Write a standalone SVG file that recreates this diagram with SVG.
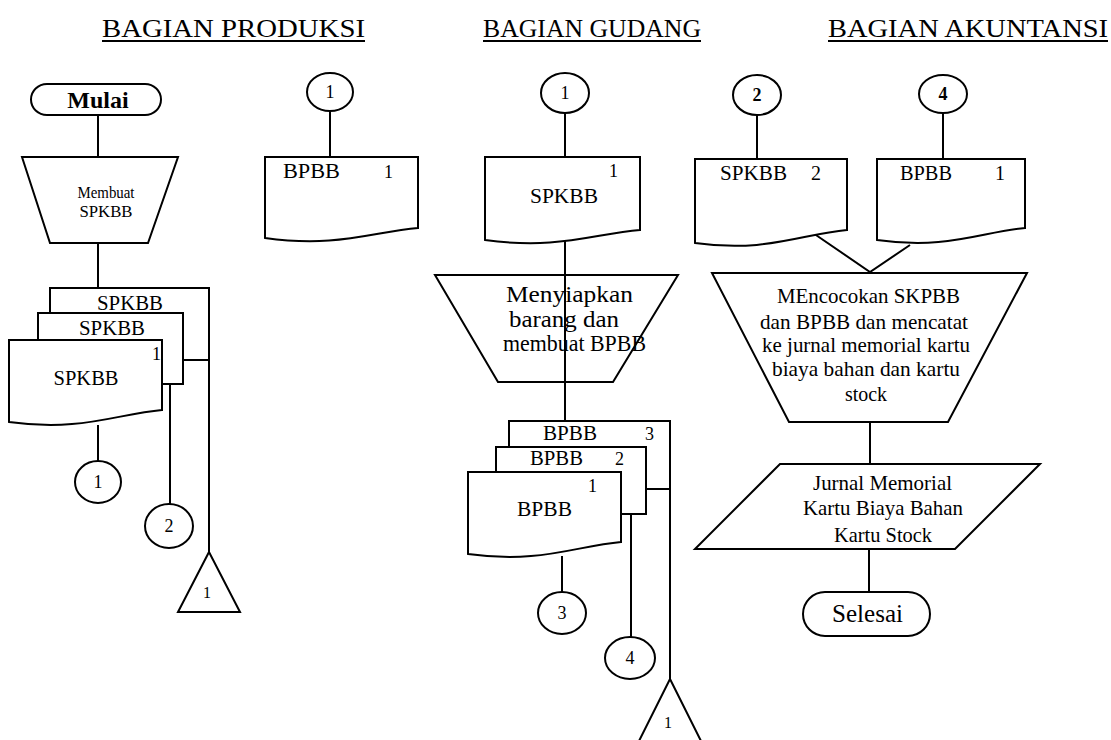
<svg xmlns="http://www.w3.org/2000/svg" width="1111" height="740" viewBox="0 0 1111 740">
<style>
.s{fill:#fff;stroke:#000;stroke-width:2;stroke-linejoin:miter}
.c{fill:none;stroke:#000;stroke-width:2}
.t{font-family:"Liberation Serif","Times New Roman",serif;fill:#000}
.h{font-size:26px}
.m{text-anchor:middle}
.d{font-size:18px}
</style>
<rect width="1111" height="740" fill="#fff"/>
<g id="headers">
<text class="t h" x="102" y="37" textLength="263" lengthAdjust="spacingAndGlyphs">BAGIAN PRODUKSI</text>
<line class="c" x1="102" y1="41" x2="365" y2="41"/>
<text class="t h" x="483" y="37" textLength="218" lengthAdjust="spacingAndGlyphs">BAGIAN GUDANG</text>
<line class="c" x1="483" y1="41" x2="701" y2="41"/>
<text class="t h" x="828" y="37" textLength="280" lengthAdjust="spacingAndGlyphs">BAGIAN AKUNTANSI</text>
<line class="c" x1="828" y1="41" x2="1108" y2="41"/>
</g>
<g id="connectors">
<line class="c" x1="98" y1="115" x2="98" y2="157"/>
<line class="c" x1="98" y1="243" x2="98" y2="288"/>
<line class="c" x1="98" y1="425" x2="98" y2="461"/>
<polyline class="c" points="162,384 183,384"/>
<line class="c" x1="170" y1="384" x2="170" y2="505"/>
<line class="c" x1="183" y1="360" x2="209" y2="360"/>
<line class="c" x1="209" y1="288" x2="209" y2="552"/>
<line class="c" x1="330" y1="111" x2="330" y2="157"/>
<line class="c" x1="565" y1="113" x2="565" y2="157"/>
<line class="c" x1="565" y1="238" x2="565" y2="421"/>
<polyline class="c" points="621,514 646,514"/>
<line class="c" x1="631" y1="514" x2="631" y2="637"/>
<line class="c" x1="646" y1="489" x2="670" y2="489"/>
<line class="c" x1="670" y1="421" x2="670" y2="679"/>
<line class="c" x1="562" y1="556" x2="562" y2="592"/>
<line class="c" x1="757" y1="115" x2="757" y2="159"/>
<line class="c" x1="943" y1="113" x2="943" y2="159"/>
<polyline class="c" points="813,233 870,272 910,245"/>
<line class="c" x1="870" y1="422" x2="870" y2="464"/>
<line class="c" x1="869" y1="549" x2="869" y2="592"/>
</g>
<g id="mulai">
<rect class="s" x="31" y="84" width="130" height="31" rx="16"/>
<text class="t m" x="98" y="108" font-size="24" font-weight="bold">Mulai</text>
</g>
<g id="membuat-spkbb">
<polygon class="s" points="22,157 178,157 148,243 50,243"/>
<text class="t m" x="106" y="198" font-size="17" textLength="57" lengthAdjust="spacingAndGlyphs">Membuat</text>
<text class="t m" x="106" y="217" font-size="17" textLength="53" lengthAdjust="spacingAndGlyphs">SPKBB</text>
</g>
<g id="spkbb-stack">
<path class="s" d="M50,313 V288 H209 V360 H183"/>
<path class="s" d="M38,340 V313 H183 V384 H162"/>
<path class="s" d="M9,340 H162 V410 C116,414 81,432 9,422 Z"/>
<text class="t m" x="130" y="310" font-size="20" textLength="66" lengthAdjust="spacingAndGlyphs">SPKBB</text>
<text class="t m" x="112" y="335" font-size="20" textLength="66" lengthAdjust="spacingAndGlyphs">SPKBB</text>
<text class="t" x="152" y="360" font-size="18">1</text>
<text class="t m" x="86" y="385" font-size="20" textLength="65" lengthAdjust="spacingAndGlyphs">SPKBB</text>
</g>
<g id="conn-1a">
<ellipse class="s" cx="98" cy="482" rx="23" ry="21"/>
<text class="t m d" x="98" y="488">1</text>
</g>
<g id="conn-2a">
<ellipse class="s" cx="169" cy="526" rx="24" ry="22"/>
<text class="t m d" x="169" y="532">2</text>
</g>
<g id="file-1a">
<polygon class="s" points="209,552 240,612 178,612"/>
<text class="t m" x="207" y="598" font-size="16">1</text>
</g>
<g id="conn-1b">
<ellipse class="s" cx="330" cy="92" rx="23" ry="19"/>
<text class="t m d" x="330" y="98">1</text>
</g>
<g id="bpbb-1">
<path class="s" d="M265,157 H418 V228 C372,232 337,248 265,238 Z"/>
<text class="t" x="283" y="178" font-size="20" textLength="57" lengthAdjust="spacingAndGlyphs">BPBB</text>
<text class="t" x="384" y="178" font-size="18">1</text>
</g>
<g id="conn-1c">
<ellipse class="s" cx="565" cy="93" rx="24" ry="20"/>
<text class="t m d" x="565" y="99">1</text>
</g>
<g id="spkbb-1">
<path class="s" d="M485,157 H640 V230 C593,234 558,250 485,240 Z"/>
<text class="t" x="609" y="177" font-size="18">1</text>
<text class="t m" x="564" y="203" font-size="20" textLength="68" lengthAdjust="spacingAndGlyphs">SPKBB</text>
</g>
<g id="menyiapkan">
<polygon class="s" points="435,275 678,275 613,382 498,382"/>
<line class="c" x1="565" y1="275" x2="565" y2="382"/>
<text class="t" x="506" y="302" font-size="23" textLength="127" lengthAdjust="spacingAndGlyphs">Menyiapkan</text>
<text class="t" x="509" y="327" font-size="23" textLength="110" lengthAdjust="spacingAndGlyphs">barang dan</text>
<text class="t" x="503" y="351" font-size="23" textLength="143" lengthAdjust="spacingAndGlyphs">membuat BPBB</text>
</g>
<g id="bpbb-stack">
<path class="s" d="M509,447 V421 H670 V489 H646"/>
<path class="s" d="M496,472 V447 H646 V514 H621"/>
<path class="s" d="M468,472 H621 V542 C575,546 540,564 468,554 Z"/>
<text class="t" x="543" y="440" font-size="20" textLength="54" lengthAdjust="spacingAndGlyphs">BPBB</text>
<text class="t" x="645" y="440" font-size="18">3</text>
<text class="t" x="530" y="465" font-size="20" textLength="53" lengthAdjust="spacingAndGlyphs">BPBB</text>
<text class="t" x="615" y="465" font-size="18">2</text>
<text class="t" x="588" y="492" font-size="18">1</text>
<text class="t" x="517" y="516" font-size="20" textLength="55" lengthAdjust="spacingAndGlyphs">BPBB</text>
</g>
<g id="conn-3">
<ellipse class="s" cx="562" cy="613" rx="24" ry="21"/>
<text class="t m d" x="562" y="619">3</text>
</g>
<g id="conn-4a">
<ellipse class="s" cx="630" cy="658" rx="25" ry="21"/>
<text class="t m d" x="630" y="664">4</text>
</g>
<g id="file-1b">
<polygon class="s" points="670,679 702,743 638,743"/>
<text class="t m" x="668" y="728" font-size="16">1</text>
</g>
<g id="conn-2b">
<ellipse class="s" cx="757" cy="95" rx="24" ry="20"/>
<text class="t m d" x="757" y="101" font-weight="bold">2</text>
</g>
<g id="conn-4b">
<ellipse class="s" cx="943" cy="94" rx="24" ry="19"/>
<text class="t m d" x="943" y="100" font-weight="bold">4</text>
</g>
<g id="spkbb-2">
<path class="s" d="M695,159 H847 V230 C801,234 766,253 695,243 Z"/>
<text class="t" x="720" y="180" font-size="20" textLength="67" lengthAdjust="spacingAndGlyphs">SPKBB</text>
<text class="t" x="811" y="180" font-size="20">2</text>
</g>
<g id="bpbb-1b">
<path class="s" d="M877,159 H1025 V228 C981,232 947,250 877,240 Z"/>
<text class="t" x="900" y="180" font-size="20" textLength="52" lengthAdjust="spacingAndGlyphs">BPBB</text>
<text class="t" x="995" y="180" font-size="20">1</text>
</g>
<g id="mencocokan">
<polygon class="s" points="712,273 1027,273 948,422 789,422"/>
<text class="t" x="777" y="303" font-size="21" textLength="183" lengthAdjust="spacingAndGlyphs">MEncocokan SKPBB</text>
<text class="t" x="760" y="329" font-size="21" textLength="208" lengthAdjust="spacingAndGlyphs">dan BPBB dan mencatat</text>
<text class="t" x="762" y="352" font-size="21" textLength="208" lengthAdjust="spacingAndGlyphs">ke jurnal memorial kartu</text>
<text class="t" x="772" y="376" font-size="21" textLength="188" lengthAdjust="spacingAndGlyphs">biaya bahan dan kartu</text>
<text class="t" x="845" y="401" font-size="21" textLength="42" lengthAdjust="spacingAndGlyphs">stock</text>
</g>
<g id="jurnal">
<polygon class="s" points="780,464 1040,464 955,549 695,549"/>
<text class="t" x="813" y="490" font-size="21" textLength="139" lengthAdjust="spacingAndGlyphs">Jurnal Memorial</text>
<text class="t" x="803" y="515" font-size="21" textLength="160" lengthAdjust="spacingAndGlyphs">Kartu Biaya Bahan</text>
<text class="t" x="834" y="542" font-size="21" textLength="98" lengthAdjust="spacingAndGlyphs">Kartu Stock</text>
</g>
<g id="selesai">
<rect class="s" x="803" y="592" width="127" height="44" rx="22"/>
<text class="t" x="832" y="622" font-size="25" textLength="71" lengthAdjust="spacingAndGlyphs">Selesai</text>
</g>
</svg>
